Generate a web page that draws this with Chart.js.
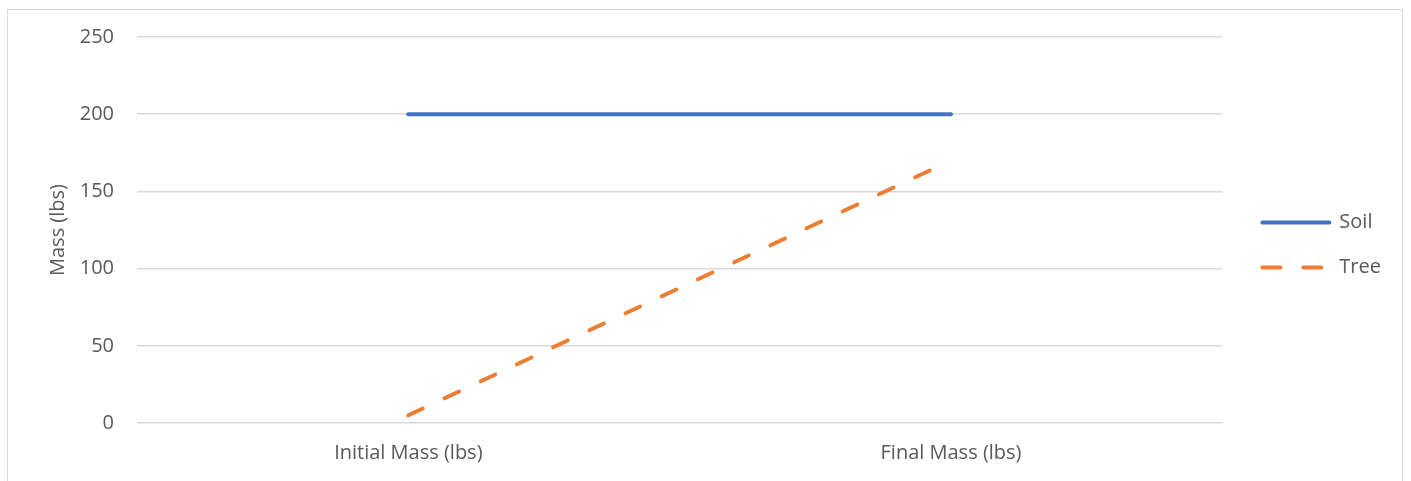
<!DOCTYPE html>
<html>
<head>
<meta charset="utf-8">
<script src="https://cdn.jsdelivr.net/npm/chart.js@4.4.1/dist/chart.umd.min.js"></script>
<style>
  html, body { margin: 0; padding: 0; background: #ffffff; }
  #wrap { position: relative; width: 1411px; height: 481px; }
  #frame { position: absolute; left: 7px; top: 9px; width: 1396px; height: 480px; border: 1px solid #d9d9d9; box-sizing: border-box; pointer-events: none; }
  canvas { position: absolute; left: 0; top: 0; }
</style>
</head>
<body>
<div id="wrap">
  <canvas id="c" width="1411" height="481"></canvas>
  <div id="frame"></div>
</div>
<script>
const categories = ["Initial Mass (lbs)", "Final Mass (lbs)"];
const soilValues = [200, 200];
const treeValues = [5, 170];
const yTickMin = 0;
const yTickMax = 250;
const yTickStep = 50;
const yAxisTitle = "Mass (lbs)";

const textColor = "#595959";
const gridColor = "#d9d9d9";
const fontFamily = "'Open Sans', 'Noto Sans', sans-serif";
const legendDashes = { Soil: [], Tree: [18, 23] };

Chart.defaults.font.family = fontFamily;
Chart.defaults.color = textColor;

new Chart(document.getElementById('c'), {
  type: 'line',
  data: {
    labels: categories,
    datasets: [
      {
        label: 'Soil',
        data: soilValues,
        borderColor: '#4472C4',
        backgroundColor: '#4472C4',
        borderWidth: 4,
        borderCapStyle: 'round',
        pointRadius: 0,
        pointHoverRadius: 0,
        tension: 0,
        fill: false
      },
      {
        label: 'Tree',
        data: treeValues,
        borderColor: '#ED7D31',
        backgroundColor: '#ED7D31',
        borderWidth: 4,
        borderDash: [16, 24],
        borderCapStyle: 'round',
        pointRadius: 0,
        pointHoverRadius: 0,
        tension: 0,
        fill: false
      }
    ]
  },
  options: {
    responsive: false,
    animation: false,
    devicePixelRatio: 1,
    layout: { padding: { left: 0, right: 20, top: 37, bottom: 0 } },
    plugins: {
      legend: {
        position: 'right',
        align: 'center',
        fullSize: false,
        title: { display: true, text: '', font: { size: 10 }, padding: { top: 9, bottom: 9 } },
        labels: {
          usePointStyle: true,
          pointStyle: 'line',
          pointStyleWidth: 67,
          padding: 25,
          color: textColor,
          font: { size: 20, family: fontFamily },
          generateLabels: function (chart) {
            const items = Chart.defaults.plugins.legend.labels.generateLabels(chart);
            return items.map(function (it) {
              const ds = chart.data.datasets[it.datasetIndex];
              it.lineDash = legendDashes[ds.label] || [];
              it.lineCap = 'round';
              it.lineWidth = 4;
              it.strokeStyle = ds.borderColor;
              it.fillStyle = ds.borderColor;
              it.fontColor = textColor;
              return it;
            });
          }
        }
      },
      tooltip: { enabled: false }
    },
    scales: {
      x: {
        offset: true,
        grid: { display: false, drawTicks: false },
        border: { display: false },
        ticks: { padding: 18, color: textColor, font: { size: 20 }, maxRotation: 0 },
        afterFit: function (scale) { scale.height = 58; }
      },
      y: {
        min: yTickMin,
        max: yTickMax,
        ticks: { stepSize: yTickStep, padding: 23, color: textColor, font: { size: 20 } },
        grid: { color: gridColor, lineWidth: 1.5, drawTicks: false },
        border: { display: false },
        title: { display: true, text: yAxisTitle, color: textColor, font: { size: 20 }, padding: { top: 46, bottom: 0 } },
        afterFit: function (scale) { scale.width = 137; }
      },
      spacer: {
        type: 'linear',
        position: 'right',
        display: true,
        grid: { display: false, drawTicks: false },
        border: { display: false },
        ticks: { display: false },
        afterFit: function (scale) { scale.width = 15; }
      }
    }
  }
});
</script>
</body>
</html>
